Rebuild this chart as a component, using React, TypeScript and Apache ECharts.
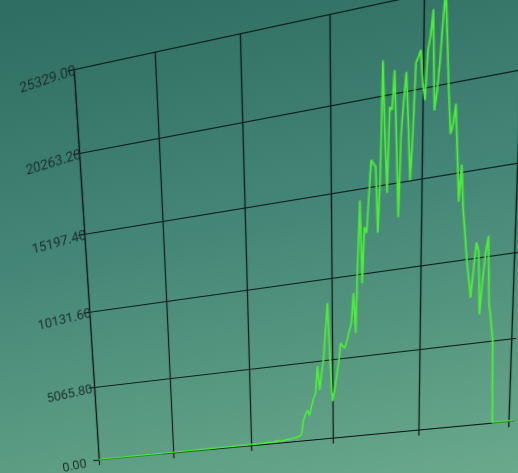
import React, { useEffect, useRef } from "react";
import * as echarts from "echarts";

// ---- data ----
const values: number[] = [
  0, 0, 1, 0, 1, 1, 2, 1, 2, 2,
  3, 2, 3, 4, 3, 4, 5, 4, 5, 6,
  5, 6, 7, 6, 8, 7, 8, 9, 8, 10,
  9, 11, 10, 12, 11, 13, 12, 14, 13, 15,
  14, 16, 15, 17, 18, 17, 19, 18, 20, 21,
  20, 22, 23, 22, 24, 25, 24, 26, 27, 26,
  28, 29, 28, 30, 31, 33, 32, 34, 35, 34,
  36, 38, 37, 39, 41, 40, 42, 44, 43, 45,
  47, 46, 49, 51, 50, 53,
  60, 75, 95, 110,
  50, 80, 120, 100, 140, 90, 110, 150, 180, 170,
  200, 230, 210, 260, 320, 430,
  1350, 1700, 1960, 1615, 2200, 2700, 3011, 4741, 3182, 4300, 5221, 7000, 8613, 5000,
  2384, 3084, 3900, 4800, 6027, 5800, 5690, 6160, 6700, 7194,
  9025, 6537, 10993, 14520, 9552, 12887, 12517, 14630, 16733, 16500,
  16310, 12440, 15700, 22190, 18000, 14700, 19540, 19360, 21530, 17500,
  13170, 17940, 19800, 21310, 18500, 15200, 17800, 21700, 22000, 22350,
  20500, 19575, 22280, 23000, 24390, 18900, 19900, 21450, 23600, 25329,
  22500, 19660, 17430, 17930, 19060, 16360, 13530, 15600, 13000, 11630,
  10100, 9000, 7800, 9500, 11020, 10500, 6740, 8800, 10400, 11300,
  7350, 6300, 5130, 0, 0, 0, 0, 0, 0, 0, 0, 0, 0,
];
const categories: string[] = values.map((_, i) => String(i + 1));
const yMin = 0;
const yMax = 25329;
const ySplitCount = 5;
const xSplitEvery = 40;

// ---- layout of the flat chart ----
const CHART_W = 490;
const CHART_H = 430;
const GRID_L = 90;
const GRID_T = 20;
const GRID_W = 394;
const GRID_H = 390;

// calibration: grid fractions (u along split lines, v along value) -> page pixels
const calibUV: [number, number][] = [
  [0, 0], [0, 0.2], [0, 0.4], [0, 0.6], [0, 0.8], [0, 1],
  [1, 0], [1, 0.2], [1, 0.4], [1, 0.6], [1, 0.8],
  [0.2, 0], [0.4, 0], [0.6, 0], [0.8, 0],
  [0.2, 1], [0.4, 1], [0.6, 1],
  [0.6, 0.2], [0.6, 0.4], [0.6, 0.6], [0.6, 0.8],
  [0.8, 0.4], [0.8, 0.6], [0.8, 0.8],
];
const calibXY: [number, number][] = [
  [99, 460], [94.3, 387], [89.5, 312], [84.5, 234], [79.4, 153], [74, 69],
  [509, 421], [511.5, 338.5], [514.3, 253], [517.1, 163.5], [520, 69.7],
  [173, 453], [251, 445], [333, 437], [418, 429.7],
  [153, 52], [240, 33.5], [330, 15],
  [331.5, 359.3], [331.3, 278.3], [331, 193.3], [330.6, 103.3],
  [420.8, 265], [422, 178.3], [423, 87.3],
];

function solve(A: number[][], b: number[]): number[] {
  const n = b.length;
  const M = A.map((r, i) => [...r, b[i]]);
  for (let c = 0; c < n; c++) {
    let p = c;
    for (let r = c + 1; r < n; r++) if (Math.abs(M[r][c]) > Math.abs(M[p][c])) p = r;
    [M[c], M[p]] = [M[p], M[c]];
    for (let r = 0; r < n; r++) {
      if (r === c) continue;
      const f = M[r][c] / M[c][c];
      for (let k = c; k <= n; k++) M[r][k] -= f * M[c][k];
    }
  }
  return M.map((r, i) => r[n] / r[i]);
}

function homography(src: [number, number][], dst: [number, number][]): number[][] {
  const ATA = Array.from({ length: 8 }, () => new Array(8).fill(0));
  const ATb = new Array(8).fill(0);
  for (let i = 0; i < src.length; i++) {
    const [x, y] = src[i];
    const [X, Y] = dst[i];
    const rows: [number[], number][] = [
      [[x, y, 1, 0, 0, 0, -x * X, -y * X], X],
      [[0, 0, 0, x, y, 1, -x * Y, -y * Y], Y],
    ];
    for (const [r, bv] of rows) {
      for (let j = 0; j < 8; j++) {
        ATb[j] += r[j] * bv;
        for (let k = 0; k < 8; k++) ATA[j][k] += r[j] * r[k];
      }
    }
  }
  const h = solve(ATA, ATb);
  return [
    [h[0], h[1], h[2]],
    [h[3], h[4], h[5]],
    [h[6], h[7], 1],
  ];
}

function mul(A: number[][], B: number[][]): number[][] {
  return A.map((row) => [0, 1, 2].map((j) => row[0] * B[0][j] + row[1] * B[1][j] + row[2] * B[2][j]));
}

function buildTransform(): string {
  const Huv = homography(calibUV, calibXY);
  const lastSplit = Math.floor((values.length - 1) / xSplitEvery) * xSplitEvery;
  const Uw = (GRID_W * lastSplit) / (values.length - 1);
  const A = [
    [1 / Uw, 0, -GRID_L / Uw],
    [0, -1 / GRID_H, (GRID_T + GRID_H) / GRID_H],
    [0, 0, 1],
  ];
  let H = mul(Huv, A);
  const s = H[2][2];
  H = H.map((r) => r.map((v) => v / s));
  return `matrix3d(${H[0][0]},${H[1][0]},0,${H[2][0]},${H[0][1]},${H[1][1]},0,${H[2][1]},0,0,1,0,${H[0][2]},${H[1][2]},0,${H[2][2]})`;
}

export default function App() {
  const ref = useRef<HTMLDivElement>(null);

  useEffect(() => {
    if (!ref.current) return;
    const chart = echarts.init(ref.current, null, { renderer: "svg" });
    const lineColor = "rgba(3,16,14,0.9)";
    chart.setOption({
      animation: false,
      grid: {
        left: GRID_L,
        top: GRID_T,
        width: GRID_W,
        height: GRID_H,
        containLabel: false,
        outerBoundsMode: "none",
      },
      xAxis: {
        type: "category",
        data: categories,
        boundaryGap: false,
        axisLine: { show: true, lineStyle: { color: lineColor, width: 1.2 } },
        axisTick: { show: true, interval: xSplitEvery - 1, length: 6, lineStyle: { color: lineColor, width: 1.2 } },
        axisLabel: { show: false, interval: xSplitEvery - 1 },
        splitLine: { show: true, interval: xSplitEvery - 1, lineStyle: { color: lineColor, width: 1.2 } },
      },
      yAxis: {
        type: "value",
        min: yMin,
        max: yMax,
        interval: (yMax - yMin) / ySplitCount,
        axisLine: { show: true, lineStyle: { color: lineColor, width: 1.2 } },
        axisTick: { show: true, length: 6, lineStyle: { color: lineColor, width: 1.2 } },
        axisLabel: {
          formatter: (v: number) => v.toFixed(2),
          align: "center",
          verticalAlign: "top",
          lineHeight: 7,
          margin: 27,
          rotate: 6,
          color: "#1a2d29",
          fontSize: 13.5,
          fontFamily: "Roboto, sans-serif",
        },
        splitLine: { show: true, lineStyle: { color: lineColor, width: 1.2 } },
      },
      series: [
        {
          type: "line",
          data: values,
          symbol: "none",
          showSymbol: false,
          lineStyle: { color: "#4cee38", width: 1.6 },
          itemStyle: { color: "#4cee38" },
        },
      ],
    });
    return () => chart.dispose();
  }, []);

  return (
    <div
      style={{
        position: "absolute",
        left: 0,
        top: 0,
        width: 518,
        height: 473,
        overflow: "hidden",
        background: "linear-gradient(168deg, #2e6d62 0%, #438576 45%, #6aa98b 100%)",
      }}
    >
      <div
        ref={ref}
        style={{
          position: "absolute",
          left: 0,
          top: 0,
          width: CHART_W,
          height: CHART_H,
          transformOrigin: "0 0",
          transform: buildTransform(),
        }}
      />
    </div>
  );
}
